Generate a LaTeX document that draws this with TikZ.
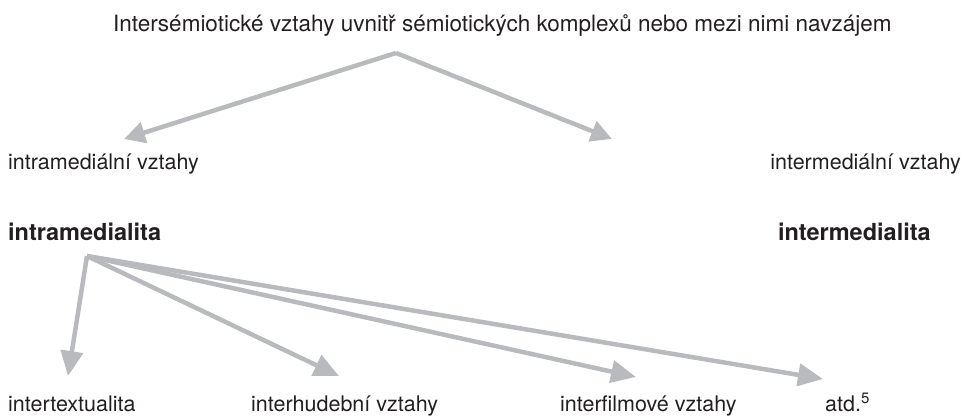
\documentclass[tikz,border=0pt]{standalone}
\usepackage{fontspec}
\setmainfont{TeX Gyre Heros}
\usetikzlibrary{arrows.meta}
\definecolor{linkgray}{RGB}{185,186,190}
\definecolor{inkgray}{RGB}{35,31,32}
\begin{document}
\begin{tikzpicture}[x=1pt,y=-1pt,
  lbl/.style={inner sep=0pt,text=inkgray,font=\fontsize{21.5}{24}\selectfont,anchor=base west},
  head/.style={lbl,font=\fontsize{22.5}{25}\selectfont},
  bold/.style={lbl,font=\fontsize{23.5}{26}\selectfont\bfseries},
  link/.style={draw=linkgray,line width=4.5pt,line join=miter,
    -{Triangle[length=21pt,width=21pt]}},
  linklow/.style={link,-{Triangle[length=25pt,width=22pt]}}]
\useasboundingbox (0,0) rectangle (964,417);
% labels
\node[head] (top) at (113,32) {Intersémiotické vztahy uvnitř sémiotických komplexů nebo mezi nimi navzájem};
\node[lbl] (intra) at (8,170) {intramediální vztahy};
\node[lbl,anchor=base east] (inter) at (961,170) {intermediální vztahy};
\node[bold] (intraB) at (8,240) {intramedialita};
\node[bold,anchor=base east] (interB) at (931,240) {intermedialita};
\node[lbl] (text) at (8,411) {intertextualita};
\node[lbl] (music) at (251,411) {interhudební vztahy};
\node[lbl] (film) at (560,411) {interfilmové vztahy};
\node[lbl] (etc) at (825,411) {atd.\textsuperscript{5}};
% connector points
\coordinate (apex) at (396,53);
\coordinate (intraTip) at (124,139);
\coordinate (interTip) at (612,139);
\coordinate (low) at (87,256);
\coordinate (textTip) at (68,376);
\coordinate (musicTip) at (339,376);
\coordinate (filmTip) at (636,377);
\coordinate (etcTip) at (823,379);
% connectors
\draw[link] (apex) -- (intraTip);
\draw[link] (apex) -- (interTip);
\draw[linklow] (low) -- (textTip);
\draw[linklow] (low) -- (musicTip);
\draw[linklow] (low) -- (filmTip);
\draw[linklow] (low) -- (etcTip);
\end{tikzpicture}
\end{document}
